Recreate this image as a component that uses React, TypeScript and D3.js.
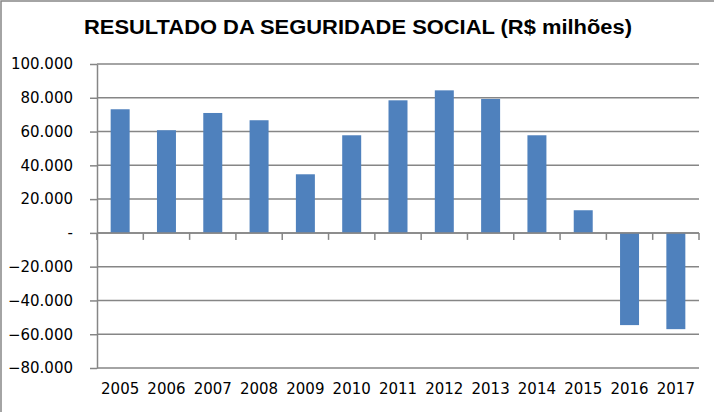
import { useEffect, useRef } from 'react';
import * as d3 from 'd3';

const YEARS = ['2005', '2006', '2007', '2008', '2009', '2010', '2011', '2012', '2013', '2014', '2015', '2016', '2017'];
const RESULTADO = [73200, 60800, 71000, 66700, 34700, 57800, 78500, 84400, 79300, 57800, 13400, -54600, -57000];
const Y_TICKS = [-80000, -60000, -40000, -20000, 0, 20000, 40000, 60000, 80000, 100000];

const TITLE = 'RESULTADO DA SEGURIDADE SOCIAL (R$ milhões)';
const BAR_COLOR = '#4F81BD';
const GRID_COLOR = '#868686';

const fmt = (v: number) => (v === 0 ? '-' : d3.format(',')(v).replace(/,/g, '.'));

export default function App() {
  const svgRef = useRef<SVGSVGElement>(null);

  useEffect(() => {
    document.body.style.margin = '0';
    const svgEl = svgRef.current;
    if (!svgEl) return;

    const width = 714;
    const height = 412;
    const margin = { top: 64, right: 15, bottom: 44, left: 97 };

    const svg = d3.select(svgEl).attr('viewBox', `0 0 ${width} ${height}`);
    svg.selectAll('*').remove();

    // chart border (cropped at right/bottom like the source)
    svg.append('rect').attr('x', 1).attr('y', 1).attr('width', width + 10).attr('height', height + 10)
      .attr('fill', '#fff').attr('stroke', GRID_COLOR).attr('stroke-width', 1.5);

    const x = d3.scaleBand().domain(YEARS).range([margin.left, width - margin.right]).paddingInner(0.59).paddingOuter(0.295);
    const y = d3.scaleLinear().domain([-80000, 100000]).range([height - margin.bottom, margin.top]);

    // Title
    svg.append('text').attr('x', 358).attr('y', 34)
      .attr('text-anchor', 'middle').attr('font-family', '"Liberation Sans", Arial, sans-serif')
      .attr('font-size', 20).attr('font-weight', 700).attr('fill', '#000')
      .attr('textLength', 548).attr('lengthAdjust', 'spacingAndGlyphs')
      .text(TITLE);

    // y ticks + labels
    const yAxis = svg.append('g').attr('transform', `translate(${margin.left},0)`)
      .call(d3.axisLeft(y).tickValues(Y_TICKS).tickSize(7).tickSizeOuter(0).tickFormat((v) => fmt(v as number)));
    yAxis.select('.domain').attr('stroke', GRID_COLOR).attr('stroke-width', 1.5);
    yAxis.selectAll('.tick line').attr('stroke', GRID_COLOR).attr('stroke-width', 1.5);
    yAxis.selectAll('.tick text').attr('x', -24).attr('font-family', '"DejaVu Sans", sans-serif')
      .attr('font-size', 15).attr('fill', '#000');

    // Gridlines
    svg.append('g').selectAll('line').data(Y_TICKS).join('line')
      .attr('x1', margin.left).attr('x2', width - margin.right)
      .attr('y1', (d) => y(d)).attr('y2', (d) => y(d))
      .attr('stroke', GRID_COLOR).attr('stroke-width', 1.5);

    // Bars
    svg.append('g').selectAll('rect').data(RESULTADO).join('rect')
      .attr('x', (_, i) => x(YEARS[i])!)
      .attr('width', x.bandwidth())
      .attr('y', (d) => y(Math.max(0, d)))
      .attr('height', (d) => Math.abs(y(d) - y(0)))
      .attr('fill', BAR_COLOR);

    // Category axis at zero, ticks between categories
    const bounds = d3.range(YEARS.length + 1).map((i) => margin.left + i * x.step());
    svg.append('line').attr('x1', margin.left).attr('x2', width - margin.right)
      .attr('y1', y(0)).attr('y2', y(0)).attr('stroke', GRID_COLOR).attr('stroke-width', 1.5);
    svg.append('g').selectAll('line').data(bounds).join('line')
      .attr('x1', (d) => d).attr('x2', (d) => d)
      .attr('y1', y(0)).attr('y2', y(0) + 7)
      .attr('stroke', GRID_COLOR).attr('stroke-width', 1.5);

    // Year labels
    svg.append('g').selectAll('text').data(YEARS).join('text')
      .attr('x', (d) => x(d)! + x.bandwidth() / 2).attr('y', 394)
      .attr('text-anchor', 'middle').attr('font-family', '"DejaVu Sans", sans-serif')
      .attr('font-size', 15).attr('fill', '#000')
      .text((d) => d);
  }, []);

  return <svg ref={svgRef} width={714} height={412} style={{ display: 'block' }} />;
}
